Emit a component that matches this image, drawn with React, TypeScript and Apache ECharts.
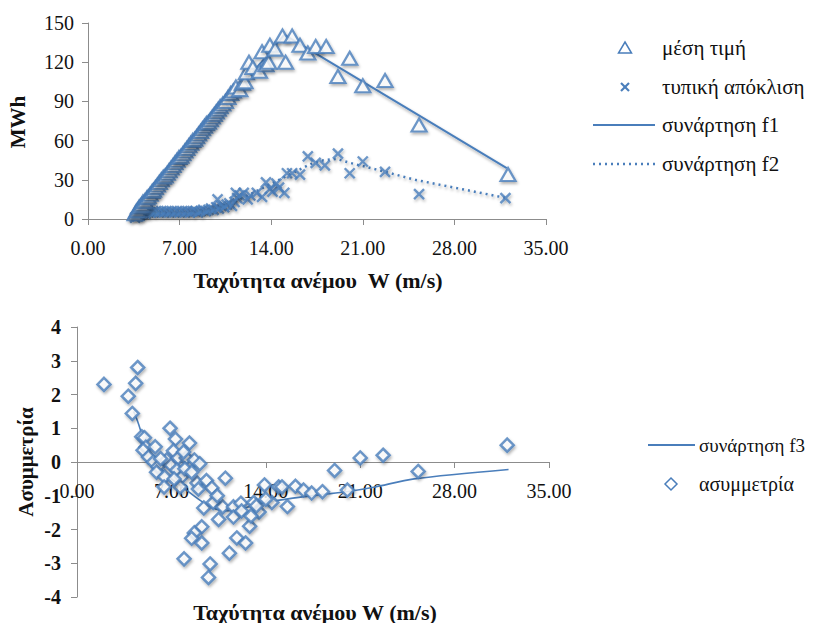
import React, { useEffect, useRef } from "react";
import * as echarts from "echarts";

// ---- Top chart data: wind speed W (m/s) vs MWh ----
const meanPoints: [number, number][] = [
  [3.6, 4], [3.7, 6], [3.8, 7], [3.9, 9], [4.0, 10], [4.1, 11], [4.2, 13], [4.35, 14],
  [4.5, 16], [4.6, 17], [4.75, 19], [4.9, 21], [5.0, 22], [5.15, 24], [5.3, 26], [5.45, 28],
  [5.6, 30], [5.75, 32], [5.9, 33], [6.05, 35], [6.2, 37], [6.35, 39], [6.5, 41], [6.65, 43],
  [6.8, 45], [6.95, 47], [7.1, 48], [7.25, 50], [7.4, 52], [7.55, 54], [7.7, 56], [7.85, 58],
  [8.0, 60], [8.15, 61], [8.3, 63], [8.45, 65], [8.6, 67], [8.75, 69], [8.9, 71], [9.05, 73],
  [9.2, 74], [9.35, 76], [9.5, 78], [9.65, 80], [9.8, 82], [9.95, 84], [10.1, 86], [10.3, 88],
  [10.5, 90], [10.7, 93], [10.9, 96], [11.1, 98], [11.3, 101], [11.6, 99], [11.8, 104], [12.0, 105],
  [12.1, 112], [12.3, 120], [12.6, 116], [13.1, 113], [13.3, 128], [13.6, 118], [13.8, 120], [13.9, 133],
  [14.3, 130], [14.86, 140], [15.1, 120], [15.6, 140], [16.2, 133], [16.8, 127], [17.4, 132], [18.2, 132],
  [19.1, 109], [20.0, 123], [21.0, 102], [22.7, 106], [25.3, 72], [32.1, 34],
];

const stdPoints: [number, number][] = [
  [3.6, 1], [3.8, 2], [4.0, 3], [4.2, 4], [4.4, 4], [4.6, 5], [4.8, 5], [5.0, 5],
  [5.2, 6], [5.4, 5], [5.6, 6], [5.8, 5], [6.0, 6], [6.2, 5], [6.4, 6], [6.6, 5],
  [6.8, 6], [7.0, 5], [7.2, 6], [7.4, 5], [7.6, 6], [7.8, 5], [8.0, 6], [8.2, 6],
  [8.4, 5], [8.6, 6], [8.8, 7], [9.0, 6], [9.2, 7], [9.4, 8], [9.6, 7], [9.8, 9],
  [9.9, 15], [10.0, 8], [10.2, 10], [10.4, 9], [10.6, 11], [10.8, 12], [11.0, 10], [11.2, 13],
  [11.4, 16], [11.3, 20], [11.6, 18], [11.9, 20], [12.2, 15], [12.4, 18], [12.9, 20], [13.3, 17],
  [13.6, 28], [13.9, 23], [14.1, 21], [14.4, 27], [14.6, 24], [15.0, 20], [15.2, 35], [15.6, 35],
  [16.2, 34], [16.8, 48], [17.4, 43], [18.1, 41], [19.1, 50], [20.0, 35], [21.0, 44], [22.7, 36],
  [25.3, 19], [31.9, 16],
];

const f1Points: [number, number][] = [
  [3.4, 0], [5, 19], [7, 44], [9, 68], [11, 93], [13, 117], [15, 141],
  [17, 129], [20, 111], [22, 99], [25, 81], [32, 39],
];

const f2Points: [number, number][] = [
  [3.6, 1], [5, 4], [7, 5], [9, 6], [10, 9], [11, 13], [12, 17], [13, 22], [14, 27],
  [15, 32], [16, 37], [17, 42], [18, 45], [19, 46], [20, 43], [22, 38], [25, 30], [32, 16],
];

// ---- Bottom chart data: skewness ----
const skewPoints: [number, number][] = [
  [2.0, 2.3], [3.8, 1.95], [4.1, 1.44], [4.35, 2.33], [4.5, 2.8], [4.8, 0.75], [5.0, 0.72], [5.1, 0.44],
  [4.9, 0.35], [5.3, 0.15], [5.8, 0.45], [5.66, 0.0], [6.0, -0.14], [5.9, -0.3], [6.5, -0.44], [6.46, -0.74],
  [6.9, 1.0], [7.3, 0.68], [7.15, 0.33], [6.65, 0.06], [6.98, -0.09], [7.5, 0.12], [7.4, -0.24], [7.77, -0.44],
  [7.65, -0.74], [8.34, 0.56], [8.1, 0.12], [8.7, 0.06], [9.1, -0.05], [8.9, -0.62], [9.6, -0.55], [10.0, -0.77],
  [9.4, -1.36], [10.1, -1.2], [11.0, -0.48], [10.8, -1.33], [10.5, -1.7], [9.25, -1.92], [8.7, -2.1], [8.5, -2.26],
  [9.25, -2.4], [7.94, -2.87], [9.87, -3.02], [9.75, -3.42], [11.3, -2.7], [11.6, -1.33], [11.6, -1.63], [11.85, -2.25],
  [12.15, -1.22], [12.5, -2.4], [12.8, -1.9], [13.1, -1.2], [13.5, -1.48], [13.9, -0.68], [14.45, -1.2], [14.95, -0.74],
  [15.2, -0.74], [15.6, -1.32], [16.2, -0.72], [16.8, -0.83], [17.4, -0.92], [18.2, -0.88], [19.1, -0.25], [20.05, -0.83],
  [21.0, 0.12], [22.7, 0.2], [25.3, -0.28], [31.9, 0.5],
  [8.0, -0.2], [7.9, 0.3], [8.5, -0.3], [6.2, 0.1], [7.2, -0.5], [9.0, -0.8], [10.4, -1.0], [12.2, -1.45],
  [13.3, -1.3], [12.9, -1.6], [14.0, -1.1],
];

const f3Points: [number, number][] = [
  [4.2, 1.5], [4.5, 1.2], [5, 0.6], [5.5, 0.2], [6, -0.1], [7, -0.5], [8, -0.8], [9, -1.1],
  [10, -1.35], [11, -1.45], [12, -1.4], [13, -1.3], [14, -1.2], [16, -1.07], [18, -0.97],
  [20, -0.88], [22, -0.75], [25, -0.5], [32, -0.22],
];

const xTicks = { min: 0, max: 35, interval: 7 };
const topY = { min: 0, max: 150, interval: 30 };
const bottomY = { min: -4, max: 4, interval: 1 };

const BLUE = "#4a7ebb";
const AXIS = "#8c8c8c";
const SERIF = "Liberation Serif, Times New Roman, Times, DejaVu Serif, serif";

const shadow = {
  shadowBlur: 3,
  shadowColor: "rgba(0,0,0,0.35)",
  shadowOffsetX: 1,
  shadowOffsetY: 2,
};

const txt = (text: string, x: number, y: number, extra: any = {}) => ({
  type: "text",
  x,
  y,
  ...extra,
  style: {
    text,
    fontFamily: SERIF,
    fontSize: 21,
    fill: "#111",
    verticalAlign: "middle",
    ...(extra.style || {}),
  },
});

export default function App() {
  const ref = useRef<HTMLDivElement>(null);

  useEffect(() => {
    if (!ref.current) return;
    const chart = echarts.init(ref.current, undefined, { renderer: "svg" });

    const axisLine = { show: true, onZero: false, lineStyle: { color: AXIS, width: 1 } };
    const axisTick = { show: true, inside: false, length: 6, lineStyle: { color: AXIS } };
    const labelFont = { fontFamily: SERIF, fontSize: 20, color: "#111" };

    const option: any = {
      animation: false,
      backgroundColor: "#fff",
      grid: [
        { left: 88, width: 458, top: 23, height: 196 },
        { left: 77, width: 472, top: 327, height: 270 },
      ],
      xAxis: [
        {
          gridIndex: 0, type: "value", ...xTicks,
          axisLine, axisTick, splitLine: { show: false },
          axisLabel: { ...labelFont, margin: 19, formatter: (v: number) => v.toFixed(2) },
        },
        {
          gridIndex: 1, type: "value", ...xTicks, offset: -135,
          axisLine, axisTick, splitLine: { show: false },
          axisLabel: { ...labelFont, margin: 19, formatter: (v: number) => v.toFixed(2) },
        },
      ],
      yAxis: [
        {
          gridIndex: 0, type: "value", ...topY,
          axisLine, axisTick, splitLine: { show: false },
          axisLabel: { ...labelFont, margin: 14 },
        },
        {
          gridIndex: 1, type: "value", ...bottomY,
          axisLine, axisTick, splitLine: { show: false },
          axisLabel: { ...labelFont, fontWeight: "bold", margin: 16 },
        },
      ],
      series: [
        {
          name: "συνάρτηση f1", type: "line", xAxisIndex: 0, yAxisIndex: 0,
          data: f1Points, symbol: "none", z: 1,
          lineStyle: { color: BLUE, width: 2, ...shadow },
        },
        {
          name: "συνάρτηση f2", type: "line", xAxisIndex: 0, yAxisIndex: 0,
          data: f2Points, symbol: "none", z: 1,
          lineStyle: { color: BLUE, width: 2.5, type: [2, 4], ...shadow },
        },
        {
          name: "μέση τιμή", type: "scatter", xAxisIndex: 0, yAxisIndex: 0,
          data: meanPoints, symbol: "triangle", symbolSize: [15, 13], z: 3,
          itemStyle: { color: "#fff", borderColor: BLUE, borderWidth: 2.2, ...shadow },
        },
        {
          name: "τυπική απόκλιση", type: "scatter", xAxisIndex: 0, yAxisIndex: 0,
          data: stdPoints, symbol: "path://M0,0L10,10M10,0L0,10", symbolSize: 10, z: 2,
          itemStyle: { color: BLUE, borderColor: BLUE, borderWidth: 2.4, ...shadow },
        },
        {
          name: "συνάρτηση f3", type: "line", xAxisIndex: 1, yAxisIndex: 1,
          data: f3Points, symbol: "none", smooth: 0.3, z: 1,
          lineStyle: { color: BLUE, width: 1.6 },
        },
        {
          name: "ασυμμετρία", type: "scatter", xAxisIndex: 1, yAxisIndex: 1,
          data: skewPoints, symbol: "diamond", symbolSize: 13, z: 3,
          itemStyle: { color: "#fff", borderColor: BLUE, borderWidth: 2.5, ...shadow },
        },
      ],
      graphic: [
        // axis titles
        txt("MWh", 18, 122, { rotation: Math.PI / 2, style: { fontWeight: "bold", align: "center" } }),
        txt("Ταχύτητα ανέμου  W (m/s)", 318, 280, { style: { fontWeight: "bold", fontSize: 22, align: "center" } }),
        txt("Ασυμμετρία", 26, 462, { rotation: Math.PI / 2, style: { fontWeight: "bold", align: "center" } }),
        txt("Ταχύτητα ανέμου W (m/s)", 315, 612, { style: { fontWeight: "bold", fontSize: 22, align: "center" } }),
        // top legend
        {
          type: "polygon", shape: { points: [[625, 42], [631.5, 53], [618.5, 53]] },
          style: { fill: "#fff", stroke: BLUE, lineWidth: 1.5 },
        },
        { type: "line", shape: { x1: 621, y1: 83, x2: 629, y2: 91 }, style: { stroke: BLUE, lineWidth: 2.2 } },
        { type: "line", shape: { x1: 629, y1: 83, x2: 621, y2: 91 }, style: { stroke: BLUE, lineWidth: 2.2 } },
        { type: "line", shape: { x1: 593, y1: 125, x2: 655, y2: 125 }, style: { stroke: BLUE, lineWidth: 2 } },
        { type: "line", shape: { x1: 593, y1: 164, x2: 655, y2: 164 }, style: { stroke: BLUE, lineWidth: 2.5, lineDash: [2, 4] } },
        txt("μέση τιμή", 662, 48),
        txt("τυπική απόκλιση", 662, 87),
        txt("συνάρτηση f1", 662, 125),
        txt("συνάρτηση f2", 662, 164),
        // bottom legend
        { type: "line", shape: { x1: 648, y1: 445, x2: 695, y2: 445 }, style: { stroke: BLUE, lineWidth: 2 } },
        {
          type: "polygon", shape: { points: [[671, 478], [677, 484], [671, 490], [665, 484]] },
          style: { fill: "#fff", stroke: BLUE, lineWidth: 1.5 },
        },
        txt("συνάρτηση f3", 699, 445, { style: { fontSize: 19 } }),
        txt("ασυμμετρία", 699, 484, { style: { fontSize: 20 } }),
      ],
    };

    chart.setOption(option);
    return () => chart.dispose();
  }, []);

  return (
    <div
      ref={ref}
      style={{ position: "fixed", left: 0, top: 0, width: 814, height: 623, background: "#fff" }}
    />
  );
}
